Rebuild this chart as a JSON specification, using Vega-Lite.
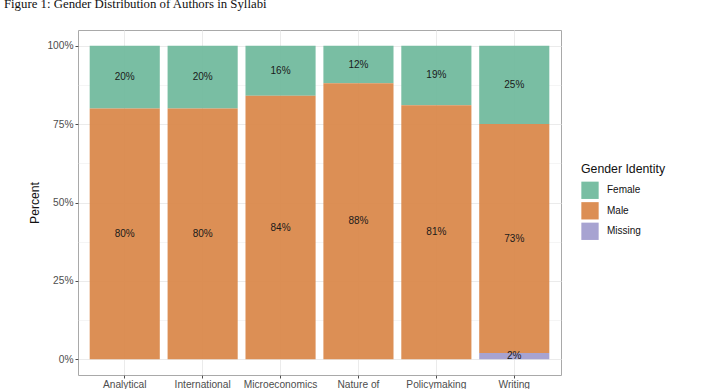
{
  "$schema": "https://vega.github.io/schema/vega-lite/v6.json",
  "autosize": {"type": "none"},
  "padding": {"left": 78, "top": 30, "right": 159, "bottom": 14},
  "width": 483,
  "height": 345,
  "background": "white",
  "title": {
    "text": "Figure 1: Gender Distribution of Authors in Syllabi",
    "anchor": "start",
    "font": "Liberation Serif",
    "fontSize": 12.8,
    "fontWeight": "normal",
    "color": "#111111",
    "offset": 19.5,
    "dx": -25
  },
  "config": {
    "view": {"stroke": "#a9a9a9", "strokeWidth": 1},
    "font": "Liberation Sans",
    "axis": {
      "labelFont": "Liberation Sans",
      "titleFont": "Liberation Sans",
      "labelColor": "#4d4d4d",
      "labelFontSize": 10.2,
      "tickColor": "#4d4d4d",
      "tickSize": 3,
      "domain": false,
      "gridColor": "#ebebeb",
      "titleFontWeight": "normal",
      "titleColor": "#111111",
      "titleFontSize": 12.2
    },
    "legend": {
      "labelFont": "Liberation Sans",
      "titleFont": "Liberation Sans"
    }
  },
  "data": {
    "values": [
      {"course": "Analytical", "gender": "Female", "pct": 0.20},
      {"course": "Analytical", "gender": "Male", "pct": 0.80},
      {"course": "International", "gender": "Female", "pct": 0.20},
      {"course": "International", "gender": "Male", "pct": 0.80},
      {"course": "Microeconomics", "gender": "Female", "pct": 0.16},
      {"course": "Microeconomics", "gender": "Male", "pct": 0.84},
      {"course": "Nature of", "gender": "Female", "pct": 0.12},
      {"course": "Nature of", "gender": "Male", "pct": 0.88},
      {"course": "Policymaking", "gender": "Female", "pct": 0.19},
      {"course": "Policymaking", "gender": "Male", "pct": 0.81},
      {"course": "Writing", "gender": "Female", "pct": 0.25},
      {"course": "Writing", "gender": "Male", "pct": 0.73},
      {"course": "Writing", "gender": "Missing", "pct": 0.02}
    ]
  },
  "transform": [
    {"stack": "pct", "groupby": ["course"], "sort": [{"field": "gender", "order": "descending"}], "as": ["y0", "y1"]}
  ],
  "layer": [
    {
      "mark": {"type": "bar", "opacity": 0.92},
      "encoding": {
        "x": {
          "field": "course",
          "type": "nominal",
          "scale": {"paddingInner": 0.1, "paddingOuter": 0.15},
          "axis": {"title": null, "labelAngle": 0, "grid": true, "bandPosition": 0.5, "labelPadding": 1}
        },
        "y": {
          "field": "y0",
          "type": "quantitative",
          "scale": {"domain": [-0.05, 1.05], "nice": false, "zero": false},
          "axis": {
            "title": "Percent",
            "values": [0, 0.125, 0.25, 0.375, 0.5, 0.625, 0.75, 0.875, 1],
            "format": ".0%",
            "labelExpr": "(datum.value * 4) % 1 === 0 ? datum.label : ''",
            "gridWidth": {"condition": {"test": "(datum.value * 4) % 1 !== 0", "value": 0.5}, "value": 1},
            "tickOpacity": {"condition": {"test": "(datum.value * 4) % 1 !== 0", "value": 0}, "value": 1},
            "labelPadding": 2,
            "titlePadding": 5
          }
        },
        "y2": {"field": "y1"},
        "color": {
          "field": "gender",
          "type": "nominal",
          "scale": {"domain": ["Female", "Male", "Missing"], "range": ["#6eb89b", "#d98547", "#9f9bcd"]},
          "legend": {
            "title": "Gender Identity",
            "orient": "none",
            "legendX": 503,
            "legendY": 133,
            "symbolType": "square",
            "symbolSize": 300,
            "symbolStrokeWidth": 0,
            "symbolOpacity": 0.92,
            "titleFontSize": 12.3,
            "titleFontWeight": "normal",
            "titleColor": "#111111",
            "titlePadding": 6,
            "labelFontSize": 10,
            "labelColor": "#111111",
            "labelOffset": 8,
            "rowPadding": 2.5,
            "padding": 0
          }
        }
      }
    },
    {
      "transform": [
        {"fold": ["y0", "y1"], "as": ["edge", "v"]},
        {"aggregate": [{"op": "mean", "field": "v", "as": "mid"}], "groupby": ["course", "gender", "pct"]}
      ],
      "mark": {"type": "text", "fontSize": 10, "color": "#1a1a1a", "baseline": "middle"},
      "encoding": {
        "x": {"field": "course", "type": "nominal"},
        "y": {"field": "mid", "type": "quantitative"},
        "text": {"field": "pct", "type": "quantitative", "format": ".0%"}
      }
    }
  ]
}
